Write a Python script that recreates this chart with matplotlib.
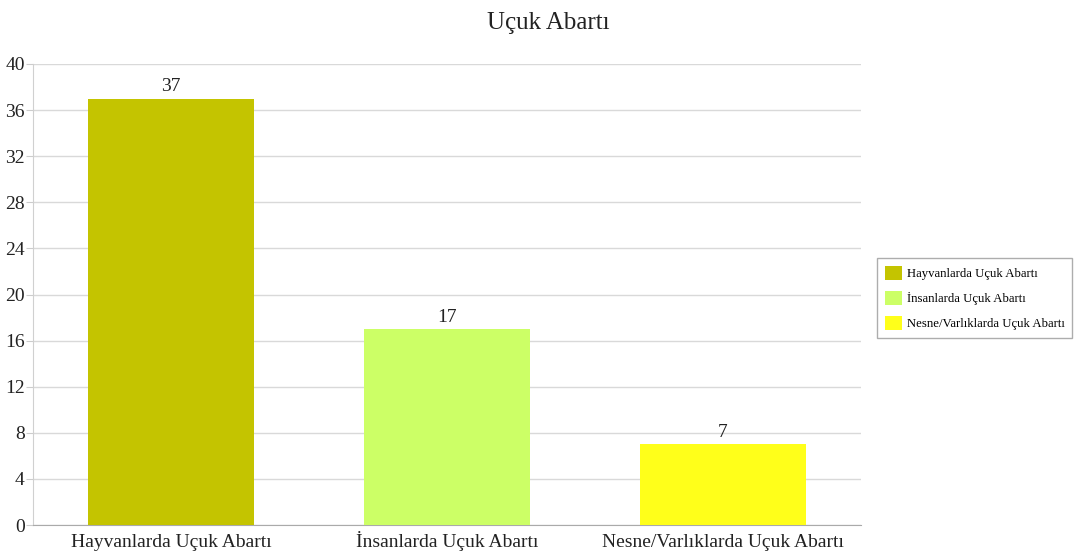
import matplotlib
matplotlib.use("Agg")
import matplotlib.pyplot as plt
from matplotlib.patches import Patch
import matplotlib.transforms as mtransforms

categories = ["Hayvanlarda Uçuk Abartı", "İnsanlarda Uçuk Abartı", "Nesne/Varlıklarda Uçuk Abartı"]
values = [37, 17, 7]
colors = ["#C4C400", "#CCFF66", "#FFFF1A"]
yticks = [0, 4, 8, 12, 16, 20, 24, 28, 32, 36, 40]

plt.rcParams['font.family'] = ['Liberation Serif', 'DejaVu Serif']

fig = plt.figure(figsize=(10.88, 5.55), dpi=100)
ax = fig.add_axes([33/1088, 1-525/555, (861-33)/1088, (525-64)/555])

x = list(range(len(categories)))
bars = ax.bar(x, values, width=0.6, color=colors, zorder=3)
for xi, v in zip(x, values):
    ax.text(xi, v + 0.3, str(v), ha='center', va='bottom', fontsize=14, color='#222222')

ax.set_xlim(-0.5, 2.5)
ax.set_ylim(0, 40)
ax.set_yticks(yticks)
ax.set_yticklabels([str(t) for t in yticks], fontsize=14, color='#222222')
ax.set_xticks(x)
ax.set_xticklabels([])
trans = mtransforms.blended_transform_factory(ax.transData, ax.transAxes)
for xi, lab in zip(x, categories):
    ax.text(xi, -22/461, lab, transform=trans, ha='center', va='baseline', fontsize=14, color='#222222')
ax.tick_params(axis='x', length=0, pad=4)
ax.tick_params(axis='y', length=5, color='#cccccc', pad=1)
ax.grid(axis='y', color='#d9d9d9', linewidth=1, zorder=0)
for s in ['top', 'right']:
    ax.spines[s].set_visible(False)
ax.spines['left'].set_color('#d0d0d0')
ax.spines['bottom'].set_color('#aaaaaa')

fig.text(548/1088, 1-23/555, "Uçuk Abartı", ha='center', va='center', fontsize=18, color='#222222')

handles = [Patch(facecolor=c, edgecolor='none') for c in colors]
fig.legend(handles, categories, loc='center left', bbox_to_anchor=(871/1088, 1-298/555),
           fontsize=9.2, frameon=True, fancybox=False, edgecolor='#999999',
           handlelength=1.3, handleheight=1.4, handletextpad=0.4, borderpad=0.6, labelspacing=0.8)

fig.savefig("out.png", dpi=100)
